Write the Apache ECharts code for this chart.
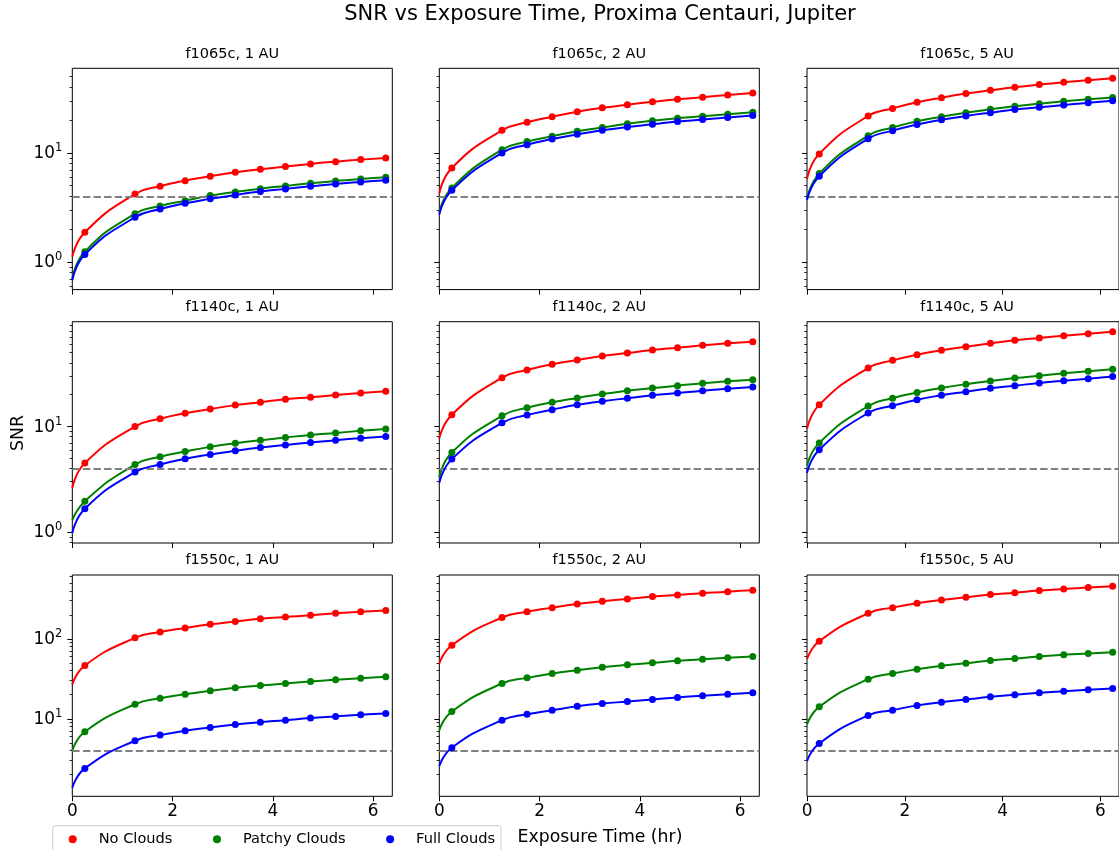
<!DOCTYPE html>
<html><head><meta charset="utf-8">
<script src="https://cdn.jsdelivr.net/npm/echarts@6/dist/echarts.min.js"></script>
<style>html,body{margin:0;padding:0;background:#fff}#chart{width:1119px;height:850px}</style>
</head><body><div id="chart"></div>
<script>
// Exposure times (hr); the first entry (t = 0) is the start of the fitted curve and has no marker
const times = [0, 0.25, 1.25, 1.75, 2.25, 2.75, 3.25, 3.75, 4.25, 4.75, 5.25, 5.75, 6.25];

const filters = ['f1065c', 'f1140c', 'f1550c'];
const distances = ['1 AU', '2 AU', '5 AU'];
const seriesNames = ['No Clouds', 'Patchy Clouds', 'Full Clouds'];
const seriesColors = ['#ff0000', '#008000', '#0000ff'];
const snrThreshold = 4;
const xTickValues = [0, 2, 4, 6];

// f1065c
const noClouds_f1065c_1AU = [1.12, 1.87, 4.2, 4.94, 5.57, 6.1, 6.64, 7.07, 7.49, 7.93, 8.32, 8.68, 9.0];
const patchy_f1065c_1AU   = [0.70, 1.24, 2.77, 3.26, 3.65, 4.06, 4.39, 4.70, 4.98, 5.26, 5.53, 5.77, 5.97];
const full_f1065c_1AU     = [0.68, 1.17, 2.57, 3.06, 3.45, 3.79, 4.12, 4.42, 4.68, 4.94, 5.2, 5.42, 5.61];
const noClouds_f1065c_2AU = [4.24, 7.28, 16.1, 19.1, 21.5, 23.9, 25.9, 27.7, 29.4, 31.0, 32.4, 34.0, 35.5];
const patchy_f1065c_2AU   = [2.85, 4.77, 10.7, 12.7, 14.2, 15.8, 17.1, 18.5, 19.7, 20.8, 21.7, 22.6, 23.6];
const full_f1065c_2AU     = [2.72, 4.54, 10.0, 11.9, 13.4, 14.8, 16.1, 17.3, 18.3, 19.4, 20.2, 21.1, 22.0];
const noClouds_f1065c_5AU = [5.77, 9.8, 21.8, 25.6, 29.1, 32.1, 35.0, 37.5, 40.0, 42.3, 44.5, 46.4, 48.3];
const patchy_f1065c_5AU   = [3.78, 6.46, 14.4, 17.1, 19.5, 21.5, 23.4, 25.1, 26.8, 28.3, 29.7, 31.0, 32.2];
const full_f1065c_5AU     = [3.70, 6.1, 13.5, 16.0, 18.2, 20.1, 21.8, 23.4, 25.0, 26.2, 27.5, 28.9, 30.1];
// f1140c
const noClouds_f1140c_1AU = [2.61, 4.49, 9.96, 11.8, 13.3, 14.6, 15.9, 16.9, 18.1, 18.9, 19.8, 20.7, 21.5];
const patchy_f1140c_1AU   = [1.29, 1.96, 4.35, 5.15, 5.78, 6.4, 6.93, 7.41, 7.84, 8.31, 8.68, 9.07, 9.47];
const full_f1140c_1AU     = [0.98, 1.66, 3.69, 4.35, 4.93, 5.42, 5.87, 6.3, 6.68, 7.03, 7.41, 7.73, 8.01];
const noClouds_f1140c_2AU = [7.73, 12.9, 28.9, 34.2, 38.7, 42.5, 46.4, 49.5, 52.9, 55.6, 58.5, 61.1, 63.3];
const patchy_f1140c_2AU   = [3.31, 5.65, 12.6, 15.0, 16.9, 18.6, 20.3, 21.7, 23.1, 24.3, 25.6, 26.7, 27.7];
const full_f1140c_2AU     = [2.92, 4.9, 10.8, 12.8, 14.4, 16.0, 17.3, 18.5, 19.7, 20.7, 21.8, 22.7, 23.6];
const noClouds_f1140c_5AU = [9.47, 16.0, 35.7, 42.2, 47.7, 52.5, 56.9, 61.1, 65.3, 68.7, 72.2, 75.4, 78.7];
const patchy_f1140c_5AU   = [4.26, 6.98, 15.6, 18.5, 20.9, 23.1, 25.1, 26.9, 28.7, 30.2, 31.8, 33.3, 34.8];
const full_f1140c_5AU     = [3.63, 6.0, 13.4, 15.7, 17.9, 19.7, 21.3, 23.0, 24.3, 25.8, 27.1, 28.3, 29.6];
// f1550c
const noClouds_f1550c_1AU = [26.8, 46.4, 103, 122, 137, 152, 165, 178, 188, 197, 209, 218, 226];
const patchy_f1550c_1AU   = [4.02, 6.88, 15.2, 18.1, 20.3, 22.4, 24.4, 26.1, 27.6, 29.3, 30.7, 32.2, 33.5];
const full_f1550c_1AU     = [1.37, 2.39, 5.31, 6.24, 7.08, 7.78, 8.48, 9.07, 9.6, 10.2, 10.7, 11.2, 11.6];
const noClouds_f1550c_2AU = [49.1, 83.2, 185, 219, 246, 274, 295, 316, 338, 355, 372, 390, 405];
const patchy_f1550c_2AU   = [7.2, 12.3, 27.6, 32.5, 36.8, 40.5, 44.2, 47.3, 50.1, 53.1, 55.6, 57.9, 60.1];
const full_f1550c_2AU     = [2.56, 4.34, 9.6, 11.4, 12.8, 14.3, 15.5, 16.4, 17.4, 18.5, 19.4, 20.3, 21.1];
const noClouds_f1550c_5AU = [56.2, 93.3, 209, 246, 279, 307, 331, 358, 379, 402, 422, 438, 455];
const patchy_f1550c_5AU   = [8.48, 14.1, 31.3, 36.8, 41.7, 46.0, 49.5, 53.5, 56.7, 60.1, 63.1, 65.5, 68.0];
const full_f1550c_5AU     = [2.95, 4.91, 11.0, 12.8, 14.7, 16.1, 17.4, 18.8, 20.0, 21.1, 22.1, 23.0, 23.9];

const panelData = [
  [[noClouds_f1065c_1AU, patchy_f1065c_1AU, full_f1065c_1AU],
   [noClouds_f1065c_2AU, patchy_f1065c_2AU, full_f1065c_2AU],
   [noClouds_f1065c_5AU, patchy_f1065c_5AU, full_f1065c_5AU]],
  [[noClouds_f1140c_1AU, patchy_f1140c_1AU, full_f1140c_1AU],
   [noClouds_f1140c_2AU, patchy_f1140c_2AU, full_f1140c_2AU],
   [noClouds_f1140c_5AU, patchy_f1140c_5AU, full_f1140c_5AU]],
  [[noClouds_f1550c_1AU, patchy_f1550c_1AU, full_f1550c_1AU],
   [noClouds_f1550c_2AU, patchy_f1550c_2AU, full_f1550c_2AU],
   [noClouds_f1550c_5AU, patchy_f1550c_5AU, full_f1550c_5AU]]
];

// layout
const FONT = 'DejaVu Sans';
const colLeft = [72.3, 439.3, 807];
const rowTop = [68.3, 321.7, 575];
const plotW = 320, plotH = 221.3;
const xMax = 6.38;
const rowYMin = [0.558, 0.787, 1.07];
const rowYMax = [59.7, 98, 630];

function majorTicks(lo, hi) {
  const out = [];
  for (let e = -2; e <= 4; e++) { const v = Math.pow(10, e); if (v >= lo && v <= hi) out.push(v); }
  return out;
}
function minorTicks(lo, hi) {
  const out = [];
  for (let e = -2; e <= 4; e++) for (let m = 2; m <= 9; m++) {
    const v = +(m * Math.pow(10, e)).toPrecision(6);
    if (v >= lo && v <= hi) out.push(v);
  }
  return out;
}

const grids = [], xAxes = [], yAxes = [], yMinorAxes = [], series = [], graphics = [];
let idx = 0;
for (let r = 0; r < 3; r++) {
  for (let c = 0; c < 3; c++) {
    grids.push({ left: colLeft[c], top: rowTop[r], width: plotW, height: plotH,
      show: true, borderColor: '#000', borderWidth: 1, backgroundColor: 'transparent', containLabel: false });
    xAxes.push({ type: 'value', gridIndex: idx, min: 0, max: xMax, position: 'bottom',
      axisLine: { show: false },
      axisTick: { show: true, inside: false, length: 5, customValues: xTickValues, lineStyle: { color: '#000', width: 1 } },
      axisLabel: { show: r === 2, customValues: xTickValues, margin: 7, color: '#000', fontSize: 16.9, fontFamily: FONT },
      splitLine: { show: false } });
    const maj = majorTicks(rowYMin[r], rowYMax[r]);
    yAxes.push({ type: 'log', logBase: 10, gridIndex: idx, min: rowYMin[r], max: rowYMax[r], position: 'left',
      axisLine: { show: false },
      axisTick: { show: true, inside: false, length: 5, customValues: maj, lineStyle: { color: '#000', width: 1 } },
      axisLabel: { show: c === 0, customValues: maj, margin: 10,
        formatter: v => '{b|10}{s|' + Math.round(Math.log10(v)) + '}',
        rich: {
          b: { fontSize: 16.9, fontFamily: FONT, color: '#000', lineHeight: 20, verticalAlign: 'middle', padding: [2, 0, 0, 0] },
          s: { fontSize: 11.4, fontFamily: FONT, color: '#000', lineHeight: 11.6, verticalAlign: 'top' }
        } },
      splitLine: { show: false } });
    yMinorAxes.push({ type: 'log', logBase: 10, gridIndex: idx, min: rowYMin[r], max: rowYMax[r], position: 'left', offset: 0,
      axisLine: { show: false },
      axisTick: { show: true, inside: false, length: 2.8, customValues: minorTicks(rowYMin[r], rowYMax[r]), lineStyle: { color: '#000', width: 0.8 } },
      axisLabel: { show: false }, splitLine: { show: false } });

    const curves = panelData[r][c];
    for (let s = 0; s < 3; s++) {
      const vals = curves[s];
      const data = times.map((t, i) => i === 0 ? { value: [t, vals[i]], symbol: 'none' } : [t, vals[i]]);
      const ser = {
        type: 'line', name: seriesNames[s], xAxisIndex: idx, yAxisIndex: idx, data,
        smooth: 0.5, symbol: 'circle', symbolSize: 7, showSymbol: true,
        lineStyle: { color: seriesColors[s], width: 2 },
        itemStyle: { color: seriesColors[s] },
        emphasis: { disabled: true }, z: 3 + s
      };
      if (s === 0) {
        ser.markLine = { silent: true, symbol: 'none', label: { show: false }, animation: false,
          lineStyle: { color: '#808080', type: [7.4, 3.2], width: 2.2, opacity: 1 },
          data: [{ yAxis: snrThreshold }] };
      }
      series.push(ser);
    }
    graphics.push({ type: 'text', x: colLeft[c] + plotW / 2, y: rowTop[r] - 14.5,
      style: { text: filters[r] + ', ' + distances[c], font: '14.5px "' + FONT + '"', fill: '#000',
        textAlign: 'center', textVerticalAlign: 'middle' } });
    idx++;
  }
}

graphics.push({ type: 'text', x: 600, y: 15, style: { text: 'SNR vs Exposure Time, Proxima Centauri, Jupiter',
  font: '21px "' + FONT + '"', fill: '#000', textAlign: 'center', textVerticalAlign: 'middle' } });
graphics.push({ type: 'text', x: 600, y: 838, style: { text: 'Exposure Time (hr)',
  font: '17.3px "' + FONT + '"', fill: '#000', textAlign: 'center', textVerticalAlign: 'middle' } });
graphics.push({ type: 'text', x: 19, y: 433, rotation: Math.PI / 2, style: { text: 'SNR',
  font: '17.3px "' + FONT + '"', fill: '#000', textAlign: 'center', textVerticalAlign: 'middle' } });

const chart = echarts.init(document.getElementById('chart'), null, { renderer: 'canvas' });
chart.setOption({
  animation: false,
  backgroundColor: '#fff',
  grid: grids,
  xAxis: xAxes,
  yAxis: yAxes.concat(yMinorAxes),
  legend: {
    left: 52.7, top: 825.7, orient: 'horizontal',
    data: seriesNames.map(n => ({ name: n, icon: 'circle' })),
    itemWidth: 8, itemHeight: 8, itemGap: 40.5,
    padding: [6, 6, 12, 16],
    borderColor: '#cccccc', borderWidth: 1, borderRadius: 3, backgroundColor: '#fff',
    textStyle: { fontFamily: FONT, fontSize: 14.6, color: '#000', padding: [0, 0, 0, 17] },
    selectedMode: false
  },
  graphic: graphics,
  series
});
</script></body></html>
